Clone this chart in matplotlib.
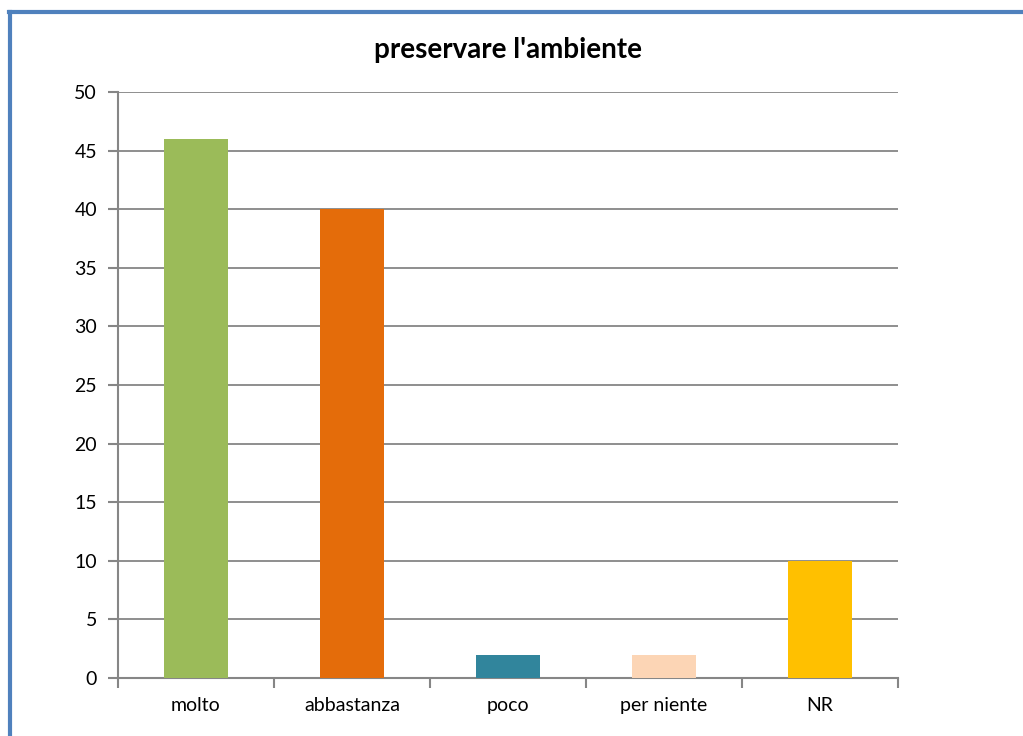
import matplotlib
matplotlib.use("Agg")
import matplotlib.pyplot as plt
from matplotlib.lines import Line2D

categories = ["molto", "abbastanza", "poco", "per niente", "NR"]
values = [46, 40, 2, 2, 10]
colors = ["#9BBB59", "#E46C0A", "#31859C", "#FCD5B5", "#FFC000"]
yticks = [0, 5, 10, 15, 20, 25, 30, 35, 40, 45, 50]
title = "preservare l'ambiente"

plt.rcParams['font.family'] = ['Lato', 'DejaVu Sans']

W, H = 1023, 736
fig = plt.figure(figsize=(W / 100, H / 100), dpi=100)
ax = fig.add_axes([118 / W, 1 - 678 / H, (898 - 118) / W, (678 - 92) / H])

x = list(range(len(categories)))
ax.bar(x, values, width=0.41, color=colors, zorder=3)
ax.set_xlim(-0.5, len(categories) - 0.5)
ax.set_ylim(0, 50)
ax.set_yticks(yticks)
ax.set_yticklabels([str(v) for v in yticks], fontsize=14)
ax.set_xticks([i - 0.5 for i in range(len(categories) + 1)], minor=False)
ax.set_xticklabels([])
ax.set_xticks(x, minor=True)
ax.set_xticklabels(categories, minor=True, fontsize=14)
ax.tick_params(axis='x', which='minor', length=0, pad=14)
ax.tick_params(axis='x', which='major', length=7, color="#868686", width=1.5)
ax.tick_params(axis='y', length=7, color="#868686", width=1.5, pad=8)
ax.grid(axis='y', color="#868686", linewidth=1.3, zorder=0)
for s in ['top', 'right']:
    ax.spines[s].set_visible(False)
for s in ['left', 'bottom']:
    ax.spines[s].set_color("#868686")
    ax.spines[s].set_linewidth(1.5)

fig.text((118 + 898) / 2 / W, 1 - 50 / H, title, ha='center', va='center',
         fontsize=20, fontweight='bold')

# border
fig.add_artist(Line2D([10 / W, 10 / W], [0, 1 - 11.5 / H], color="#4F81BD", linewidth=3,
                      transform=fig.transFigure))
fig.add_artist(Line2D([8.5 / W, 1], [1 - 11.5 / H, 1 - 11.5 / H], color="#4F81BD", linewidth=3,
                      transform=fig.transFigure))

fig.savefig("out.png", dpi=100)
